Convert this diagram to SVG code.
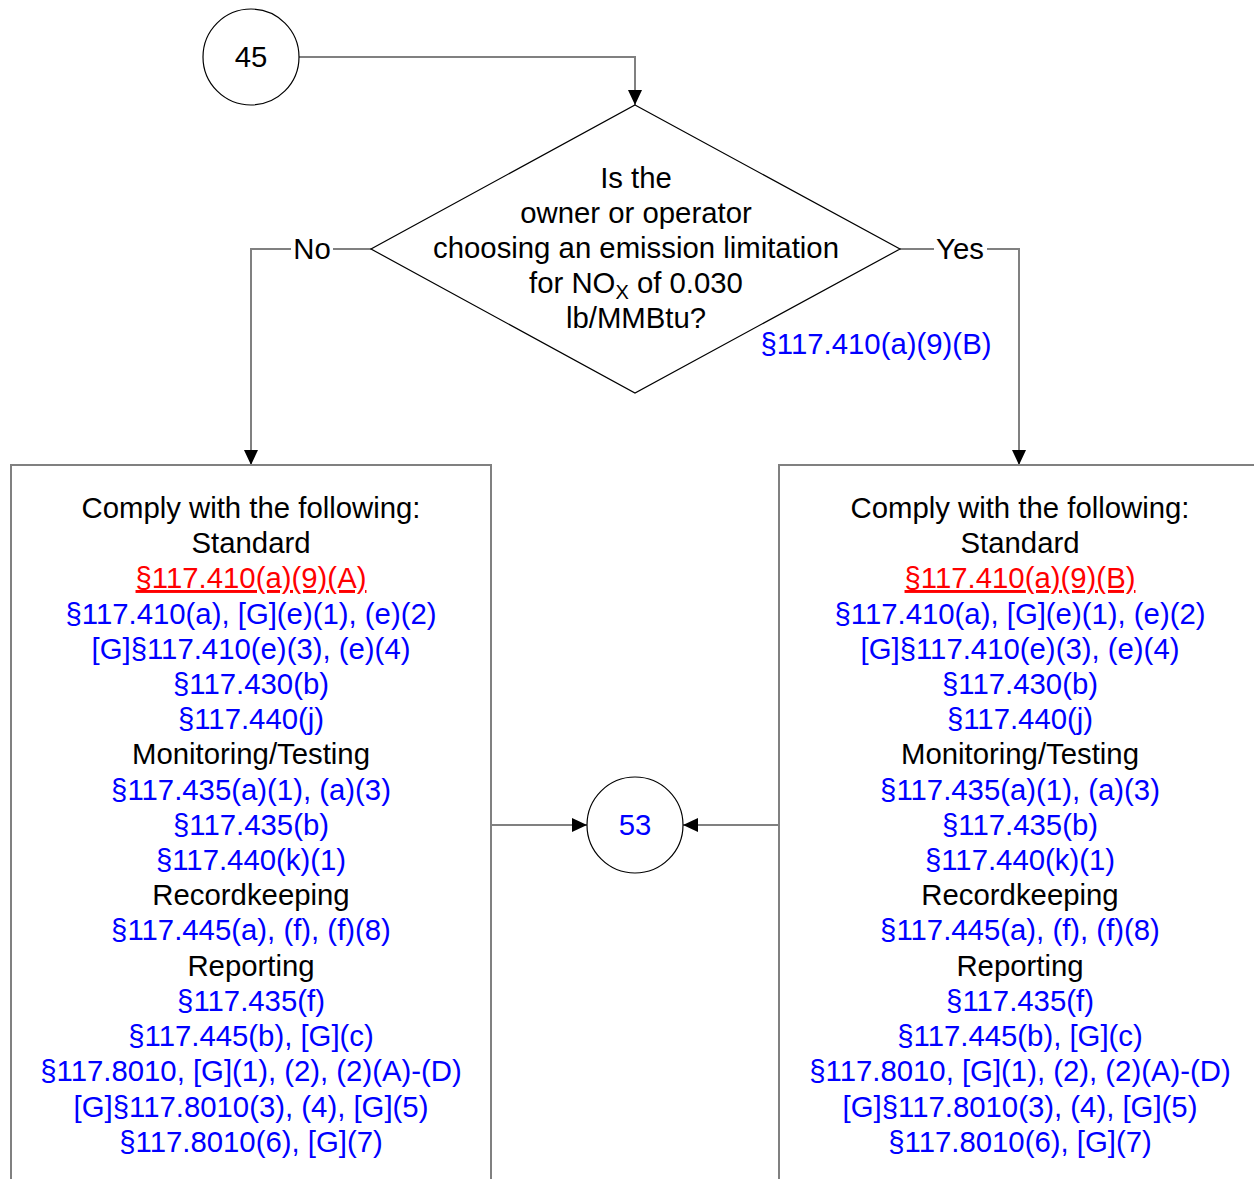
<svg xmlns="http://www.w3.org/2000/svg" width="1254" height="1179" viewBox="0 0 1254 1179">
<style>
text{font-family:"Liberation Sans",Arial,sans-serif;font-size:29.33px;text-anchor:middle}
.k{fill:#000}
.b{fill:#0000FF}
.r{fill:#FF0000;text-decoration:underline}
.conn{fill:none;stroke:#808080;stroke-width:2}
.shape{fill:#fff;stroke:#000;stroke-width:1.2}
.box{fill:#fff;stroke:#808080;stroke-width:2}
</style>
<defs>
<marker id="ah" viewBox="0 0 15 14" refX="15" refY="7" markerWidth="15" markerHeight="14" markerUnits="userSpaceOnUse" orient="auto">
<path d="M0,0 L15,7 L0,14 Z" fill="#000"/>
</marker>
</defs>
<rect width="1254" height="1179" fill="#fff"/>
<g id="connectors">
<path class="conn" d="M299,57 H635 V105" marker-end="url(#ah)"/>
<path class="conn" d="M371,249 H251 V465" marker-end="url(#ah)"/>
<path class="conn" d="M900,249 H1019 V465" marker-end="url(#ah)"/>
<path class="conn" d="M491,825 H587" marker-end="url(#ah)"/>
<path class="conn" d="M779,825 H683" marker-end="url(#ah)"/>
<rect x="291" y="233" width="42" height="32" fill="#fff"/>
<text class="k" x="312" y="259">No</text>
<rect x="934" y="233" width="53" height="32" fill="#fff"/>
<text class="k" x="960" y="259">Yes</text>
</g>
<g id="node45">
<circle class="shape" cx="251" cy="57" r="48"/>
<text class="k" x="251" y="67">45</text>
</g>
<g id="decision">
<path class="shape" d="M635,105 L900,249 L635,393 L371,249 Z"/>
<text class="k" x="636" y="188">Is the</text>
<text class="k" x="636" y="223">owner or operator</text>
<text class="k" x="636" y="258">choosing an emission limitation</text>
<text class="k" x="636" y="293">for NO<tspan font-size="20" dy="6">X</tspan><tspan dy="-6"> of 0.030</tspan></text>
<text class="k" x="636" y="328">lb/MMBtu?</text>
<text class="b" x="876" y="354">§117.410(a)(9)(B)</text>
</g>
<g id="node53">
<circle class="shape" cx="635" cy="825" r="48"/>
<text class="b" x="635" y="835">53</text>
</g>
<g id="boxNo">
<path class="box" d="M11,1185 V465 H491 V1185"/>
<text class="k" x="251" y="518">Comply with the following:</text>
<text class="k" x="251" y="553">Standard</text>
<text class="r" x="251" y="588">§117.410(a)(9)(A)</text>
<text class="b" x="251" y="624">§117.410(a), [G](e)(1), (e)(2)</text>
<text class="b" x="251" y="659">[G]§117.410(e)(3), (e)(4)</text>
<text class="b" x="251" y="694">§117.430(b)</text>
<text class="b" x="251" y="729">§117.440(j)</text>
<text class="k" x="251" y="764">Monitoring/Testing</text>
<text class="b" x="251" y="800">§117.435(a)(1), (a)(3)</text>
<text class="b" x="251" y="835">§117.435(b)</text>
<text class="b" x="251" y="870">§117.440(k)(1)</text>
<text class="k" x="251" y="905">Recordkeeping</text>
<text class="b" x="251" y="940">§117.445(a), (f), (f)(8)</text>
<text class="k" x="251" y="976">Reporting</text>
<text class="b" x="251" y="1011">§117.435(f)</text>
<text class="b" x="251" y="1046">§117.445(b), [G](c)</text>
<text class="b" x="251" y="1081">§117.8010, [G](1), (2), (2)(A)-(D)</text>
<text class="b" x="251" y="1117">[G]§117.8010(3), (4), [G](5)</text>
<text class="b" x="251" y="1152">§117.8010(6), [G](7)</text>
</g>
<g id="boxYes">
<path class="box" d="M779,1185 V465 H1260"/>
<text class="k" x="1020" y="518">Comply with the following:</text>
<text class="k" x="1020" y="553">Standard</text>
<text class="r" x="1020" y="588">§117.410(a)(9)(B)</text>
<text class="b" x="1020" y="624">§117.410(a), [G](e)(1), (e)(2)</text>
<text class="b" x="1020" y="659">[G]§117.410(e)(3), (e)(4)</text>
<text class="b" x="1020" y="694">§117.430(b)</text>
<text class="b" x="1020" y="729">§117.440(j)</text>
<text class="k" x="1020" y="764">Monitoring/Testing</text>
<text class="b" x="1020" y="800">§117.435(a)(1), (a)(3)</text>
<text class="b" x="1020" y="835">§117.435(b)</text>
<text class="b" x="1020" y="870">§117.440(k)(1)</text>
<text class="k" x="1020" y="905">Recordkeeping</text>
<text class="b" x="1020" y="940">§117.445(a), (f), (f)(8)</text>
<text class="k" x="1020" y="976">Reporting</text>
<text class="b" x="1020" y="1011">§117.435(f)</text>
<text class="b" x="1020" y="1046">§117.445(b), [G](c)</text>
<text class="b" x="1020" y="1081">§117.8010, [G](1), (2), (2)(A)-(D)</text>
<text class="b" x="1020" y="1117">[G]§117.8010(3), (4), [G](5)</text>
<text class="b" x="1020" y="1152">§117.8010(6), [G](7)</text>
</g>
</svg>
